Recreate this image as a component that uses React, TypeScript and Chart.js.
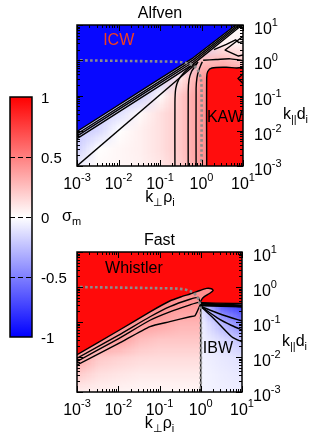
import React, { useEffect, useRef } from "react";
import { Chart, registerables } from "chart.js";

Chart.register(...registerables);

type P = [number, number];

const FONT = '"Liberation Sans", Arial, Helvetica, sans-serif';

// ---------- axes / ticks (log10 exponents) ----------
const decadeExponents = [-3, -2, -1, 0, 1];
const minorSteps = [2, 3, 4, 5, 6, 7, 8, 9];
const colorbarTicks = [1, 0.5, 0, -0.5, -1];
const colorbarLabels = ["1", "0.5", "0", "-0.5", "-1"];
const panelTitles = ["Alfven", "Fast"];

// ---------- heat-map grid nodes (log10 k_perp rho_i, log10 k_par d_i) ----------
const gridLogX = [-3, -2.5, -2, -1.5, -1, -0.5, 0, 0.5, 1];
const gridLogY = [1, 0.5, 0, -0.5, -1, -1.5, -2, -2.5, -3];

// sigma_m values at the nodes, Alfven panel (background field)
const alfvenField = [
  [-0.25, -0.25, -0.25, -0.25, -0.25, -0.25, -0.2, 0.02, 0.02],
  [-0.25, -0.25, -0.25, -0.25, -0.25, -0.25, -0.2, 0.05, 0.04],
  [-0.25, -0.25, -0.25, -0.25, -0.25, -0.22, 0.25, 0.28, 0.2],
  [-0.25, -0.25, -0.25, -0.25, -0.2, 0.1, 0.4, 0.5, 0.5],
  [-0.22, -0.22, -0.22, -0.2, 0.02, 0.22, 0.42, 0.5, 0.5],
  [-0.2, -0.2, -0.12, 0.02, 0.12, 0.22, 0.42, 0.5, 0.5],
  [-0.22, -0.15, 0.0, 0.06, 0.12, 0.22, 0.42, 0.5, 0.5],
  [-0.18, 0.0, 0.03, 0.06, 0.12, 0.22, 0.42, 0.5, 0.5],
  [-0.05, 0.02, 0.03, 0.05, 0.1, 0.2, 0.42, 0.5, 0.5],
];
// Fast panel background field (pink part)
const fastField = [
  [0.45, 0.45, 0.45, 0.45, 0.45, 0.45, 0.45, 0.45, 0.45],
  [0.45, 0.45, 0.45, 0.45, 0.45, 0.45, 0.45, 0.45, 0.45],
  [0.45, 0.45, 0.45, 0.45, 0.45, 0.45, 0.45, 0.45, 0.45],
  [0.45, 0.45, 0.45, 0.45, 0.45, 0.4, 0.4, 0.4, 0.4],
  [0.45, 0.45, 0.45, 0.4, 0.36, 0.3, 0.3, 0.3, 0.3],
  [0.45, 0.42, 0.38, 0.26, 0.22, 0.22, 0.22, 0.22, 0.22],
  [0.38, 0.22, 0.18, 0.15, 0.14, 0.14, 0.14, 0.14, 0.14],
  [0.2, 0.12, 0.1, 0.08, 0.08, 0.08, 0.08, 0.08, 0.08],
  [0.06, 0.05, 0.04, 0.03, 0.03, 0.03, 0.03, 0.03, 0.03],
];
// Fast panel, IBW wedge field (blue part)
const fastWedgeField = [
  [-0.12, -0.12, -0.12, -0.12, -0.12, -0.12, -0.12, -0.65, -0.8],
  [-0.12, -0.12, -0.12, -0.12, -0.12, -0.12, -0.12, -0.65, -0.8],
  [-0.12, -0.12, -0.12, -0.12, -0.12, -0.12, -0.12, -0.65, -0.8],
  [-0.12, -0.12, -0.12, -0.12, -0.12, -0.12, -0.12, -0.65, -0.8],
  [-0.06, -0.06, -0.06, -0.06, -0.06, -0.06, -0.06, -0.3, -0.5],
  [-0.05, -0.05, -0.05, -0.05, -0.05, -0.05, -0.05, -0.14, -0.25],
  [-0.05, -0.05, -0.05, -0.05, -0.05, -0.05, -0.05, -0.09, -0.12],
  [-0.04, -0.04, -0.04, -0.04, -0.04, -0.04, -0.04, -0.07, -0.09],
  [-0.04, -0.04, -0.04, -0.04, -0.04, -0.04, -0.04, -0.06, -0.07],
];

// ---------- uniform regions ----------
const alfvenBlueRegion: P[] = [[-3.2, -2.08], [-3.05, -2.06], [-1, -0.52], [-0.2, 0.07], [0.85, 1.02], [1.1, 1.25], [-3.2, 1.25]];
const alfvenRedRegion: P[] = [[0.125, -3.2], [0.125, -0.5], [0.15, -0.32], [0.25, -0.22], [0.6, -0.2], [0.85, -0.22], [1.2, -0.2], [1.2, -3.2]];
const fastRedRegion: P[] = [[-3.2, -2.05], [-3.05, -1.97], [-2, -1.25], [-1.23, -0.71], [-0.75, -0.4], [-0.45, -0.27], [-0.26, -0.2], [-0.02, -0.1], [0.14, -0.04], [0.26, -0.05], [0.3, -0.1], [0.22, -0.18], [0.06, -0.3], [0, -0.44], [0, -0.47], [1.2, -0.47], [1.2, 1.25], [-3.2, 1.25]];
const fastWedgeRegion: P[] = [[0, -0.5], [1.2, -0.5], [1.2, -3.2], [0, -3.2]];
const alfvenRedValue = 0.95;
const alfvenBlueValue = -0.97;
const fastRedValue = 0.96;

// ---------- contour lines ----------
const resonanceCurve: P[] = [[-3.05, 0], [-0.7, -0.04], [-0.45, -0.06], [-0.3, -0.1], [-0.18, -0.16], [-0.09, -0.28], [-0.03, -0.45], [0, -0.7], [0, -3.1]];

const alfvenBand1: P[] = [[-3.05, -2.06], [-1, -0.52], [-0.2, 0.07], [0.85, 1.02], [1.1, 1.25]];
const alfvenBand2: P[] = [[-3.05, -2.13], [-1, -0.59], [-0.2, 0.01], [0.85, 0.97], [1.1, 1.2]];
const alfvenBand3: P[] = [[-3.05, -2.19], [-1, -0.65], [-0.2, -0.05], [0.85, 0.93], [1.1, 1.16]];
const alfvenBand4: P[] = [[-3.05, -2.26], [-1, -0.72], [-0.2, -0.11], [0.85, 0.88], [1.1, 1.11]];
const alfvenDiagonal: P[] = [[-3.05, -3.05], [-0.08, -0.05]];
const alfvenLevel1: P[] = [[-0.64, -3.1], [-0.64, -1.2], [-0.62, -0.8], [-0.55, -0.55], [-0.42, -0.35], [-0.28, -0.2], [-0.18, -0.1]];
const alfvenLevel2: P[] = [[-0.32, -3.1], [-0.32, -0.9], [-0.3, -0.55], [-0.24, -0.32], [-0.16, -0.18], [-0.1, -0.08]];
const alfvenLevel3: P[] = [[-0.13, -3.1], [-0.13, -0.8], [-0.11, -0.5], [-0.07, -0.3], [-0.02, -0.15], [0.02, -0.04]];
const alfvenRedEdge: P[] = [[0.125, -3.1], [0.125, -0.5], [0.15, -0.32], [0.25, -0.22], [0.6, -0.2], [0.85, -0.22], [1.05, -0.2]];
const alfvenNotch: P[] = [[1.05, -0.33], [0.88, -0.52], [1.05, -0.72]];
const alfvenUpper1: P[] = [[0.04, 0.0], [0.35, 0.02], [0.7, 0.04], [1.05, -0.02]];
const alfvenUpper2: P[] = [[1.05, 0.72], [0.57, 0.29], [0.89, 0.12], [1.05, 0.16]];
const alfvenUpper3: P[] = [[0.3, 0.3], [0.6, 0.45], [0.82, 0.58], [0.9, 0.5], [1.05, 0.55]];

const fastBand1: P[] = [[-3.05, -1.97], [-2, -1.25], [-1.23, -0.71], [-0.75, -0.4], [-0.45, -0.27], [-0.26, -0.2], [-0.02, -0.1], [0.14, -0.04], [0.26, -0.05], [0.3, -0.1], [0.22, -0.18], [0.06, -0.3], [0, -0.44], [1.05, -0.47]];
const fastBand2: P[] = [[-3.05, -2.07], [-2, -1.38], [-1.23, -0.85], [-0.75, -0.56], [-0.26, -0.35], [-0.06, -0.3], [0, -0.45], [1.05, -0.52]];
const fastBand3: P[] = [[-3.05, -2.16], [-2, -1.48], [-1.23, -0.95], [-0.75, -0.71], [-0.26, -0.51], [-0.06, -0.44], [0, -0.47], [1.05, -0.57]];
const fastBand4: P[] = [[-3.05, -2.26], [-2, -1.62], [-1.23, -1.13], [-0.75, -0.99], [-0.26, -0.85], [-0.14, -0.82], [-0.03, -0.55], [0, -0.48]];
const fastZeroLine: P[] = [[0, -0.47], [0, -3.1]];
const fastFan1: P[] = [[0.02, -0.56], [0.42, -0.75], [0.91, -0.94], [1.05, -0.98]];
const fastFan2: P[] = [[0.02, -0.57], [0.4, -0.88], [0.75, -1.1], [1.05, -1.25]];
const fastFan3: P[] = [[0.02, -0.58], [0.35, -0.94], [0.75, -1.42], [0.99, -1.56], [1.05, -1.57]];

// ---------- labels placed in data coordinates ----------
const alfvenNotes = [{ text: "ICW", at: [-2.37, 0.55] as P, color: "#f2401e" }, { text: "KAW", at: [0.13, -1.62] as P, color: "#000" }];
const fastNotes = [{ text: "Whistler", at: [-2.32, 0.54] as P, color: "#000" }, { text: "IBW", at: [0.05, -1.77] as P, color: "#000" }];

// ---------- helpers ----------
function sigmaRGB(s: number): [number, number, number] {
  const v = Math.max(-1, Math.min(1, s));
  if (v >= 0) {
    const c = Math.round(255 * (1 - v));
    return [255, c, c];
  }
  const c = Math.round(255 * (1 + v));
  return [c, c, 255];
}
const sigmaCss = (s: number) => `rgb(${sigmaRGB(s).join(",")})`;
const font = (px: number) => `${px}px ${FONT}`;

type Part = { t: string; sub?: boolean; sup?: boolean };
function drawRich(ctx: CanvasRenderingContext2D, parts: Part[], x: number, y: number, align: "left" | "center") {
  const widths = parts.map((p) => {
    ctx.font = font(p.sub || p.sup ? 11 : 16);
    return ctx.measureText(p.t).width;
  });
  const total = widths.reduce((a, b) => a + b, 0);
  let cx = align === "center" ? x - total / 2 : x;
  ctx.textAlign = "left";
  ctx.textBaseline = "alphabetic";
  parts.forEach((p, i) => {
    ctx.font = font(p.sub || p.sup ? 11 : 16);
    ctx.fillText(p.t, cx, y + (p.sub ? 4 : p.sup ? -8 : 0));
    cx += widths[i];
  });
}

type Layer = { poly?: P[]; grid?: number[][]; value?: number };
type LineSpec = { pts: P[]; color?: string; width?: number; dash?: number[]; tension?: number };
type PanelSpec = {
  padding: { left: number; right: number; top: number; bottom: number };
  title: string;
  layers: Layer[];
  lines: LineSpec[];
  notes: { text: string; at: P; color: string }[];
};

const dotted = { color: "#8d8d8d", width: 2.6, dash: [2.6, 2.4], tension: 0.35 };

function makePanel(canvas: HTMLCanvasElement, spec: PanelSpec) {
  const toXY = (pts: P[]) => pts.map(([a, b]) => ({ x: Math.pow(10, a), y: Math.pow(10, b) }));
  const datasets = spec.lines.map((l) => ({
    data: toXY(l.pts),
    showLine: true,
    fill: false,
    pointRadius: 0,
    pointHoverRadius: 0,
    borderColor: l.color ?? "#000",
    borderWidth: l.width ?? 1.4,
    borderDash: l.dash ?? [],
    borderCapStyle: "butt",
    borderJoinStyle: "round",
    tension: l.tension ?? 0,
  }));

  const heat = {
    id: "heat",
    beforeDatasetsDraw(chart: any) {
      const { ctx, chartArea: a } = chart;
      const sx = chart.scales.x;
      const sy = chart.scales.y;
      const px = (v: number) => sx.getPixelForValue(Math.pow(10, v));
      const py = (v: number) => sy.getPixelForValue(Math.pow(10, v));
      ctx.save();
      ctx.beginPath();
      ctx.rect(a.left, a.top, a.right - a.left, a.bottom - a.top);
      ctx.clip();
      for (const layer of spec.layers) {
        ctx.save();
        if (layer.poly) {
          ctx.beginPath();
          layer.poly.forEach(([u, v], i) => (i ? ctx.lineTo(px(u), py(v)) : ctx.moveTo(px(u), py(v))));
          ctx.closePath();
          ctx.clip();
        }
        if (layer.grid) {
          const nx = gridLogX.length;
          const ny = gridLogY.length;
          const off = document.createElement("canvas");
          off.width = nx;
          off.height = ny;
          const octx = off.getContext("2d")!;
          const img = octx.createImageData(nx, ny);
          for (let j = 0; j < ny; j++)
            for (let i = 0; i < nx; i++) {
              const [r, g, b] = sigmaRGB(layer.grid[j][i]);
              const k = (j * nx + i) * 4;
              img.data[k] = r;
              img.data[k + 1] = g;
              img.data[k + 2] = b;
              img.data[k + 3] = 255;
            }
          octx.putImageData(img, 0, 0);
          const hx = (gridLogX[1] - gridLogX[0]) / 2;
          const hy = (gridLogY[0] - gridLogY[1]) / 2;
          const x0 = px(gridLogX[0] - hx);
          const x1 = px(gridLogX[nx - 1] + hx);
          const y0 = py(gridLogY[0] + hy);
          const y1 = py(gridLogY[ny - 1] - hy);
          ctx.imageSmoothingEnabled = true;
          ctx.drawImage(off, x0, y0, x1 - x0, y1 - y0);
        } else {
          ctx.fillStyle = sigmaCss(layer.value ?? 0);
          ctx.fillRect(a.left - 2, a.top - 2, a.right - a.left + 4, a.bottom - a.top + 4);
        }
        ctx.restore();
      }
      ctx.restore();
    },
  };

  const deco = {
    id: "deco",
    afterDatasetsDraw(chart: any) {
      const { ctx, chartArea: a } = chart;
      const sx = chart.scales.x;
      const sy = chart.scales.y;
      ctx.save();
      ctx.fillStyle = "#000";
      // notes
      for (const n of spec.notes) {
        ctx.font = font(16);
        ctx.fillStyle = n.color;
        ctx.textAlign = "left";
        ctx.textBaseline = "middle";
        ctx.fillText(n.text, sx.getPixelForValue(Math.pow(10, n.at[0])), sy.getPixelForValue(Math.pow(10, n.at[1])));
      }
      // ticks
      ctx.strokeStyle = "#000";
      ctx.lineWidth = 1;
      const tick = (x1: number, y1: number, x2: number, y2: number) => {
        ctx.beginPath();
        ctx.moveTo(x1, y1);
        ctx.lineTo(x2, y2);
        ctx.stroke();
      };
      const values: { v: number; major: boolean }[] = [];
      decadeExponents.forEach((e) => {
        values.push({ v: Math.pow(10, e), major: true });
        if (e < 1) minorSteps.forEach((m) => values.push({ v: m * Math.pow(10, e), major: false }));
      });
      for (const { v, major } of values) {
        const L = major ? 6 : 3;
        const x = Math.round(sx.getPixelForValue(v)) + 0.5;
        tick(x, a.bottom, x, a.bottom - L);
        tick(x, a.top, x, a.top + L);
        const y = Math.round(sy.getPixelForValue(v)) + 0.5;
        tick(a.left, y, a.left + L, y);
        tick(a.right, y, a.right - L, y);
      }
      // frame
      ctx.lineWidth = 1.5;
      ctx.strokeRect(a.left, a.top, a.right - a.left, a.bottom - a.top);
      // tick labels
      ctx.fillStyle = "#000";
      for (const e of decadeExponents) {
        const parts: Part[] = [{ t: "10" }, { t: String(e), sup: true }];
        drawRich(ctx, parts, sx.getPixelForValue(Math.pow(10, e)), a.bottom + 22.5, "center");
        drawRich(ctx, parts, a.right + 11, sy.getPixelForValue(Math.pow(10, e)) + 9, "left");
      }
      // axis titles
      drawRich(ctx, [{ t: "k" }, { t: "⊥", sub: true }, { t: "ρ" }, { t: "i", sub: true }], (a.left + a.right) / 2, a.bottom + 35.5, "center");
      drawRich(ctx, [{ t: "k" }, { t: "||", sub: true }, { t: "d" }, { t: "i", sub: true }], a.right + 40, a.top + 94, "left");
      // title
      ctx.font = font(16);
      ctx.textAlign = "center";
      ctx.textBaseline = "alphabetic";
      ctx.fillText(spec.title, (a.left + a.right) / 2, a.top - 7);
      ctx.restore();
    },
  };

  return new Chart(canvas, {
    type: "scatter",
    data: { datasets } as any,
    options: {
      responsive: false,
      animation: false,
      events: [],
      layout: { padding: spec.padding },
      scales: {
        x: { type: "logarithmic", min: 1e-3, max: 10, display: false },
        y: { type: "logarithmic", min: 1e-3, max: 10, display: false },
      },
      plugins: { legend: { display: false }, tooltip: { enabled: false } },
    } as any,
    plugins: [heat, deco] as any,
  });
}

function makeColorbar(canvas: HTMLCanvasElement) {
  const deco = {
    id: "cbdeco",
    afterDatasetsDraw(chart: any) {
      const { ctx, chartArea: a } = chart;
      const sy = chart.scales.y;
      ctx.save();
      ctx.strokeStyle = "#000";
      ctx.lineWidth = 1;
      ctx.setLineDash([5, 3]);
      colorbarTicks.slice(1, -1).forEach((v) => {
        const y = Math.round(sy.getPixelForValue(v)) + 0.5;
        ctx.beginPath();
        ctx.moveTo(a.left, y);
        ctx.lineTo(a.right, y);
        ctx.stroke();
      });
      ctx.setLineDash([]);
      ctx.lineWidth = 1.5;
      ctx.strokeRect(a.left, a.top, a.right - a.left, a.bottom - a.top);
      ctx.fillStyle = "#000";
      ctx.font = font(15);
      ctx.textAlign = "left";
      ctx.textBaseline = "alphabetic";
      colorbarTicks.forEach((v, i) => {
        ctx.fillText(colorbarLabels[i], a.right + 9, sy.getPixelForValue(v) + 5.5);
      });
      drawRich(ctx, [{ t: "σ" }, { t: "m", sub: true }], a.right + 30, sy.getPixelForValue(0) + 4, "left");
      ctx.restore();
    },
  };
  return new Chart(canvas, {
    type: "bar",
    data: {
      labels: [""],
      datasets: [
        {
          data: [[colorbarTicks[colorbarTicks.length - 1], colorbarTicks[0]]],
          borderWidth: 0,
          barPercentage: 1,
          categoryPercentage: 1,
          backgroundColor: (c: any) => {
            const chart = c.chart;
            const { ctx, chartArea } = chart;
            if (!chartArea) return "#fff";
            const sy = chart.scales.y;
            const g = ctx.createLinearGradient(0, sy.getPixelForValue(1), 0, sy.getPixelForValue(-1));
            g.addColorStop(0, sigmaCss(1));
            g.addColorStop(0.5, sigmaCss(0));
            g.addColorStop(1, sigmaCss(-1));
            return g;
          },
        },
      ],
    } as any,
    options: {
      responsive: false,
      animation: false,
      events: [],
      layout: { padding: { left: 10, right: 282, top: 97, bottom: 102 } },
      scales: {
        x: { display: false },
        y: { display: false, min: -1, max: 1 },
      },
      plugins: { legend: { display: false }, tooltip: { enabled: false } },
    } as any,
    plugins: [deco] as any,
  });
}

const alfvenSpec: PanelSpec = {
  padding: { left: 77, right: 71, top: 25, bottom: 273 },
  title: panelTitles[0],
  layers: [{ grid: alfvenField }, { poly: alfvenRedRegion, value: alfvenRedValue }, { poly: alfvenBlueRegion, value: alfvenBlueValue }],
  lines: [
    { pts: resonanceCurve, ...dotted },
    { pts: alfvenBand1 },
    { pts: alfvenBand2 },
    { pts: alfvenBand3 },
    { pts: alfvenBand4 },
    { pts: alfvenDiagonal },
    { pts: alfvenLevel1, tension: 0.3 },
    { pts: alfvenLevel2, tension: 0.3 },
    { pts: alfvenLevel3, tension: 0.3 },
    { pts: alfvenRedEdge, tension: 0.3 },
    { pts: alfvenNotch },
    { pts: alfvenUpper1, tension: 0.3 },
    { pts: alfvenUpper2 },
    { pts: alfvenUpper3 },
  ],
  notes: alfvenNotes,
};

const fastSpec: PanelSpec = {
  padding: { left: 77, right: 72, top: 252, bottom: 47 },
  title: panelTitles[1],
  layers: [{ grid: fastField }, { poly: fastWedgeRegion, grid: fastWedgeField }, { poly: fastRedRegion, value: fastRedValue }],
  lines: [
    { pts: resonanceCurve, ...dotted },
    { pts: fastBand1, tension: 0.2 },
    { pts: fastBand2, tension: 0.2 },
    { pts: fastBand3, tension: 0.2 },
    { pts: fastBand4, tension: 0.2 },
    { pts: [[0, -0.52], [1.05, -0.55]] as P[], width: 2.5 },
    { pts: fastZeroLine, width: 1.2 },
    { pts: fastFan1, tension: 0.25 },
    { pts: fastFan2, tension: 0.25 },
    { pts: fastFan3, tension: 0.25 },
  ],
  notes: fastNotes,
};

export default function App() {
  const topRef = useRef<HTMLCanvasElement>(null);
  const botRef = useRef<HTMLCanvasElement>(null);
  const cbRef = useRef<HTMLCanvasElement>(null);
  useEffect(() => {
    const charts = [
      makePanel(topRef.current!, alfvenSpec),
      makePanel(botRef.current!, fastSpec),
      makeColorbar(cbRef.current!),
    ];
    return () => charts.forEach((c) => c.destroy());
  }, []);
  const st: React.CSSProperties = { position: "absolute", left: 0, top: 0 };
  return (
    <div style={{ position: "fixed", left: 0, top: 0, width: 314, height: 439, background: "#fff" }}>
      <canvas ref={topRef} width={314} height={439} style={st} />
      <canvas ref={botRef} width={314} height={439} style={st} />
      <canvas ref={cbRef} width={314} height={439} style={st} />
    </div>
  );
}
